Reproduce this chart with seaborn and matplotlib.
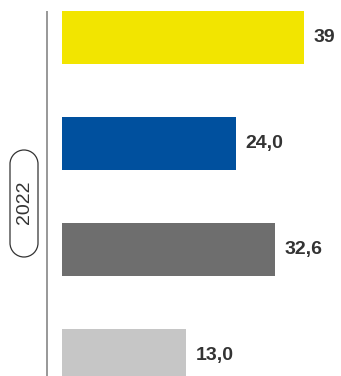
import matplotlib
matplotlib.use("Agg")
import matplotlib.pyplot as plt
from matplotlib.patches import PathPatch
from matplotlib.path import Path
from matplotlib.transforms import Affine2D
import numpy as np
import seaborn as sns
import pandas as pd

# Data
categories = ["Serie 1", "Serie 2", "Serie 3", "Serie 4"]
values = [39.0, 24.0, 32.6, 13.0]
value_labels = ["39", "24,0", "32,6", "13,0"]
colors = ["#F2E500", "#00509E", "#6E6E6E", "#C6C6C6"]
year_label = "2022"

# Common starting point of all bars (bars run from here to their value)
baseline = -14.32

sns.set_theme(style="white")
plt.rcParams["font.family"] = ["Liberation Sans", "DejaVu Sans"]

fig = plt.figure(figsize=(3.41, 3.76), dpi=100)
ax = fig.add_axes([0, 0, 1, 1])

df = pd.DataFrame({"category": categories, "value": values})
sns.barplot(data=df, x="value", y="category", hue="category",
            palette=colors, legend=False, width=0.5, orient="h",
            saturation=1, ax=ax)

# Start every bar at the shared baseline, keeping its end at the value
for bar in ax.patches:
    end = bar.get_x() + bar.get_width()
    bar.set_x(baseline)
    bar.set_width(end - baseline)
    bar.set_edgecolor("none")

for container, lab in zip(ax.containers, value_labels):
    ax.bar_label(container, labels=[lab], padding=7, fontsize=14,
                 fontweight="bold", color="#333333")

# Vertical separator line
ax.vlines(-17.63, -0.25, 3.5, color="#9A9A9A", linewidth=1.44)

ax.set_xlim(-27.99, 47.16)
ax.set_ylim(3.193, -0.354)
ax.set_axis_off()


def pill_path(cx, y0, y1, r):
    """Vertical capsule outline: half circles at both ends."""
    top = Path.arc(0, 180).transformed(Affine2D().scale(r).translate(cx, y1 - r))
    bottom = Path.arc(180, 360).transformed(Affine2D().scale(r).translate(cx, y0 + r))
    verts = np.concatenate([top.vertices, bottom.vertices, top.vertices[:1]])
    codes = np.concatenate([top.codes, [Path.LINETO],
                            bottom.codes[1:], [Path.CLOSEPOLY]])
    return Path(verts, codes)


# Year pill on the left
pill = PathPatch(pill_path(0.24, 1.19, 2.26, 0.14),
                 transform=fig.dpi_scale_trans, facecolor="white",
                 edgecolor="#333333", linewidth=0.9)
fig.add_artist(pill)
fig.text(0.24, 1.74, year_label, transform=fig.dpi_scale_trans,
         rotation=90, ha="center", va="center", fontsize=14,
         color="#333333")

fig.savefig("out.png", dpi=100)
